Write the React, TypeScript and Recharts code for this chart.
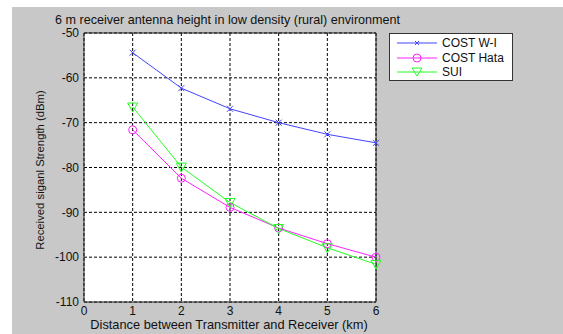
import React from 'react'
import { LineChart, Line, XAxis, YAxis, CartesianGrid, ReferenceArea, Legend } from 'recharts'

const distances = [1, 2, 3, 4, 5, 6]
const costWI = [-54.4, -62.3, -66.9, -70.0, -72.6, -74.5]
const costHata = [-71.6, -82.4, -88.9, -93.5, -97.0, -100.0]
const sui = [-66.5, -79.9, -87.8, -93.6, -97.9, -101.6]

const xTicks = [0, 1, 2, 3, 4, 5, 6]
const yTicks = [-110, -100, -90, -80, -70, -60, -50]

const BLUE = '#4444ff'
const MAGENTA = '#ff22ff'
const GREEN = '#22ff22'
const FONT = '"Liberation Sans", Arial, sans-serif'

const data = distances.map((d, i) => ({ d, wi: costWI[i], hata: costHata[i], sui: sui[i] }))

const CrossDot = (p: any) => (
  <path key={p.index} d={`M${p.cx - 3},${p.cy - 3}L${p.cx + 3},${p.cy + 3}M${p.cx - 3},${p.cy + 3}L${p.cx + 3},${p.cy - 3}`} stroke={BLUE} strokeWidth={1} />
)
const CircleDot = (p: any) => <circle key={p.index} cx={p.cx} cy={p.cy} r={4} fill="none" stroke={MAGENTA} strokeWidth={1} />
const TriDot = (p: any) => (
  <path key={p.index} d={`M${p.cx - 5},${p.cy - 4}L${p.cx + 5},${p.cy - 4}L${p.cx},${p.cy + 5}Z`} fill="none" stroke={GREEN} strokeWidth={1} />
)

const legendItems = [
  { name: 'COST W-I', color: BLUE, mark: 'x' },
  { name: 'COST Hata', color: MAGENTA, mark: 'o' },
  { name: 'SUI', color: GREEN, mark: 'v' },
]

const LegendBox = () => (
  <div style={{ width: 124, height: 48, border: '1px solid #333', background: '#fff', boxSizing: 'border-box', fontFamily: FONT, fontSize: 12, color: '#111' }}>
    {legendItems.map((it) => (
      <div key={it.name} style={{ display: 'flex', alignItems: 'center', height: 14.5, marginTop: it.mark === 'x' ? 2 : 0 }}>
        <svg width={45} height={12} style={{ marginLeft: 7 }}>
          <line x1={0} y1={6} x2={40} y2={6} stroke={it.color} strokeWidth={1} />
          {it.mark === 'x' && <path d="M18,4L22,8M18,8L22,4" stroke={it.color} />}
          {it.mark === 'o' && <circle cx={20} cy={6} r={4} fill="none" stroke={it.color} />}
          {it.mark === 'v' && <path d="M15,2L25,2L20,10Z" fill="none" stroke={it.color} />}
        </svg>
        <span>{it.name}</span>
      </div>
    ))}
  </div>
)

export default function App() {
  return (
    <div style={{ position: 'absolute', left: 0, top: 0, width: 563, height: 334, background: '#fff', overflow: 'hidden' }}>
      <div style={{ position: 'absolute', left: 12, top: 7, width: 551, height: 327, background: '#c8c8c8' }} />
      <div style={{ position: 'absolute', left: 55, top: 20, transform: 'translateY(-50%)', fontFamily: FONT, fontSize: 12.6, color: '#111', whiteSpace: 'nowrap' }}>
        6 m receiver antenna height in low density (rural) environment
      </div>
      <div style={{ position: 'absolute', left: 229, top: 324, transform: 'translate(-50%, -50%)', fontFamily: FONT, fontSize: 12.8, color: '#111', whiteSpace: 'nowrap' }}>
        Distance between Transmitter and Receiver (km)
      </div>
      <div style={{ position: 'absolute', left: 40, top: 170, transform: 'translate(-50%, -50%) rotate(-90deg)', fontFamily: FONT, fontSize: 11.3, color: '#111', whiteSpace: 'nowrap' }}>
        Received siganl Strength (dBm)
      </div>
      <div style={{ position: 'absolute', left: 0, top: 0 }}>
        <LineChart width={563} height={334} data={data} margin={{ top: 33, right: 187, bottom: 2, left: 0 }}>
          <CartesianGrid fill="#fff" stroke="#000" strokeDasharray="3 2" horizontalValues={yTicks} verticalValues={xTicks} />
          <XAxis dataKey="d" type="number" domain={[0, 6]} ticks={xTicks} height={30} axisLine={false} tickLine={false} tickSize={0} tickMargin={4}
            tick={{ fontFamily: FONT, fontSize: 12, fill: '#111' }} />
          <YAxis type="number" domain={[-110, -50]} ticks={yTicks} width={84} axisLine={false} tickLine={false} tickSize={0} tickMargin={5}
            tick={{ fontFamily: FONT, fontSize: 12, fill: '#111' }} />
          <ReferenceArea x1={0} x2={6} y1={-110} y2={-50} fill="none" stroke="#222" strokeWidth={1} />
          <Line dataKey="wi" name="COST W-I" stroke={BLUE} strokeWidth={1} dot={CrossDot} isAnimationActive={false} />
          <Line dataKey="hata" name="COST Hata" stroke={MAGENTA} strokeWidth={1} dot={CircleDot} isAnimationActive={false} />
          <Line dataKey="sui" name="SUI" stroke={GREEN} strokeWidth={1} dot={TriDot} isAnimationActive={false} />
          <Legend layout="vertical" align="center" verticalAlign="middle" content={<LegendBox />}
            wrapperStyle={{ position: 'absolute', left: 389, top: 33, width: 124 }} />
        </LineChart>
      </div>
    </div>
  )
}
